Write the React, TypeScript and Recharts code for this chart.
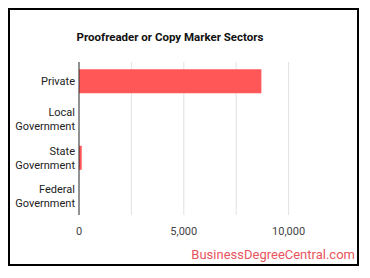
import { BarChart, Bar, XAxis, YAxis, CartesianGrid } from "recharts";

const sectors = ["Private", "Local Government", "State Government", "Federal Government"];
const workers = [8700, 0, 130, 0];
const xMax = 12500;
const xTicks = [0, 2500, 5000, 7500, 10000];
const labeledTicks = [0, 5000, 10000];

const data = sectors.map((name, i) => ({ name, value: workers[i] }));

function SectorTick(props: any) {
  const { x, y, payload } = props;
  const words = String(payload.value).split(" ");
  const lineHeight = 14;
  const startDy = -((words.length - 1) * lineHeight) / 2;
  const tx = x + 4;
  return (
    <text
      x={tx}
      y={y}
      textAnchor="end"
      fill="#222"
      fontSize={11}
      fontFamily="Roboto, sans-serif"
      dominantBaseline="central"
    >
      {words.map((w, i) => (
        <tspan key={w} x={tx} dy={i === 0 ? startDy : lineHeight}>
          {w}
        </tspan>
      ))}
    </text>
  );
}

export default function App() {
  return (
    <div
      style={{
        position: "relative",
        width: 351,
        height: 258,
        boxSizing: "border-box",
        border: "2px solid #000",
        background: "#fff",
        fontFamily: "Roboto, sans-serif",
      }}
    >
      <div
        style={{
          position: "absolute",
          left: 0,
          top: 20,
          width: 320,
          textAlign: "center",
          fontSize: 11.5,
          fontWeight: 700,
          color: "#111",
        }}
      >
        Proofreader or Copy Marker Sectors
      </div>
      <div style={{ position: "absolute", left: -2, top: -2 }}>
        <BarChart
          width={351}
          height={258}
          data={data}
          layout="vertical"
          margin={{ top: 54, right: 18, bottom: 21, left: 0 }}
          barCategoryGap="19%"
        >
          <CartesianGrid
            horizontal={false}
            stroke="#e2e2e2"
            verticalCoordinatesGenerator={({ xAxis, offset }: any) =>
              xTicks.map((t) =>
                xAxis && typeof xAxis.scale === "function"
                  ? xAxis.scale(t)
                  : offset.left + (t / xMax) * offset.width
              )
            }
          />
          <XAxis
            type="number"
            domain={[0, xMax]}
            ticks={xTicks}
            tickFormatter={(v: number) =>
              labeledTicks.includes(v) ? v.toLocaleString("en-US") : ""
            }
            axisLine={false}
            tickLine={false}
            tick={{ fill: "#444", fontSize: 11, fontFamily: "Roboto, sans-serif" }}
            height={30}
            tickMargin={6}
          />
          <YAxis
            type="category"
            dataKey="name"
            width={71}
            axisLine={{ stroke: "#333" }}
            tickLine={false}
            tick={<SectorTick />}
            interval={0}
          />
          <Bar dataKey="value" fill="#ff5757" isAnimationActive={false} />
        </BarChart>
      </div>
      <div
        style={{
          position: "absolute",
          right: 2,
          top: 237,
          fontSize: 13,
          color: "#e8545c",
        }}
      >
        BusinessDegreeCentral.com
      </div>
    </div>
  );
}
